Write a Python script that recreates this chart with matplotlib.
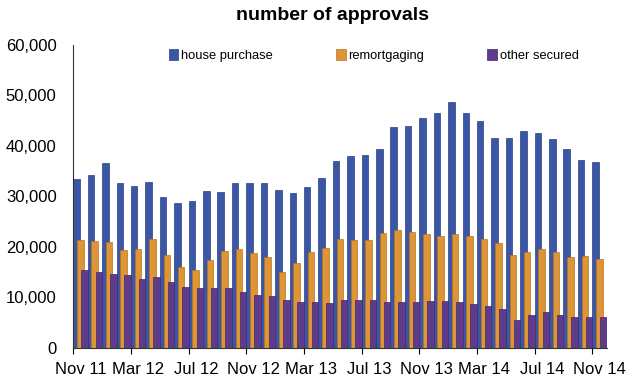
import matplotlib
matplotlib.use('Agg')
import matplotlib.pyplot as plt
import numpy as np

months = ['Nov 11', 'Dec 11', 'Jan 12', 'Feb 12', 'Mar 12', 'Apr 12', 'May 12', 'Jun 12',
          'Jul 12', 'Aug 12', 'Sep 12', 'Oct 12', 'Nov 12', 'Dec 12', 'Jan 13', 'Feb 13',
          'Mar 13', 'Apr 13', 'May 13', 'Jun 13', 'Jul 13', 'Aug 13', 'Sep 13', 'Oct 13',
          'Nov 13', 'Dec 13', 'Jan 14', 'Feb 14', 'Mar 14', 'Apr 14', 'May 14', 'Jun 14',
          'Jul 14', 'Aug 14', 'Sep 14', 'Oct 14', 'Nov 14']

house_purchase = [33500, 34300, 36700, 32700, 32100, 32800, 29800, 28600, 29000, 31000,
                  30900, 32700, 32700, 32700, 31200, 30700, 31800, 33600, 37000, 37900,
                  38200, 39400, 43700, 44000, 45600, 46600, 48700, 46600, 44900, 41500,
                  41500, 43000, 42600, 41400, 39300, 37200, 36800]
remortgaging = [21300, 21100, 20900, 19400, 19500, 21500, 18400, 16000, 15400, 17400,
                19200, 19600, 18800, 18000, 15000, 16800, 19000, 19800, 21500, 21400,
                21400, 22800, 23400, 23000, 22500, 22100, 22500, 22100, 21500, 20800,
                18400, 19000, 19500, 19000, 17900, 18100, 17500]
other_secured = [15400, 15000, 14700, 14400, 13700, 14000, 13000, 12100, 11800, 11900,
                 11900, 11100, 10400, 10200, 9400, 9000, 9100, 8900, 9400, 9500,
                 9400, 9100, 9100, 9000, 9200, 9200, 9100, 8600, 8200, 7700,
                 5400, 6400, 7100, 6400, 6000, 6000, 6000]

colors = {'house purchase': '#3B56A5', 'remortgaging': '#DE9535', 'other secured': '#5F3B8B'}
edges = {'house purchase': '#2A3F80', 'remortgaging': '#B87422', 'other secured': '#442868'}

plt.rcParams['font.family'] = ['Liberation Sans', 'DejaVu Sans']

fig = plt.figure(figsize=(6.34, 3.84), dpi=100)
ax = fig.add_axes([0.1156, 0.0945, 0.8414, 0.7885])

x = np.arange(len(months))
width = 0.45
series = [('house purchase', house_purchase, 0.0),
          ('remortgaging', remortgaging, 0.26),
          ('other secured', other_secured, 0.55)]
for name, vals, off in series:
    ax.bar(x + off, vals, width=width, align='edge', color=colors[name],
           edgecolor=edges[name], linewidth=0.5, label=name)

ax.set_xlim(0, len(months))
ax.set_ylim(0, 60000)
ax.set_yticks(range(0, 60001, 10000))
ax.set_yticklabels([f'{v:,}' for v in range(0, 60001, 10000)], fontsize=12)
ax.tick_params(axis='y', length=0, pad=12)

ax.set_xticks(x[::4])
ax.set_xticklabels([])
ax.set_xticks(x[::4] + 0.5, minor=True)
ax.set_xticklabels(months[::4], minor=True, fontsize=12)
ax.tick_params(axis='x', which='major', length=4, direction='out')
ax.tick_params(axis='x', which='minor', length=0, pad=10)

for side in ['top', 'right']:
    ax.spines[side].set_visible(False)
ax.spines['left'].set_color('#333333')
ax.spines['bottom'].set_color('#333333')

leg = ax.legend(loc='upper center', bbox_to_anchor=(0.563, 1.005), ncol=3, frameon=False,
                fontsize=9.3, handlelength=0.75, handleheight=0.95, handletextpad=0.2,
                columnspacing=4.9, borderaxespad=0.0)

fig.text(0.525, 0.96, 'number of approvals', ha='center', va='center',
         fontsize=14, fontweight='bold')

fig.savefig('out.png', dpi=100)
